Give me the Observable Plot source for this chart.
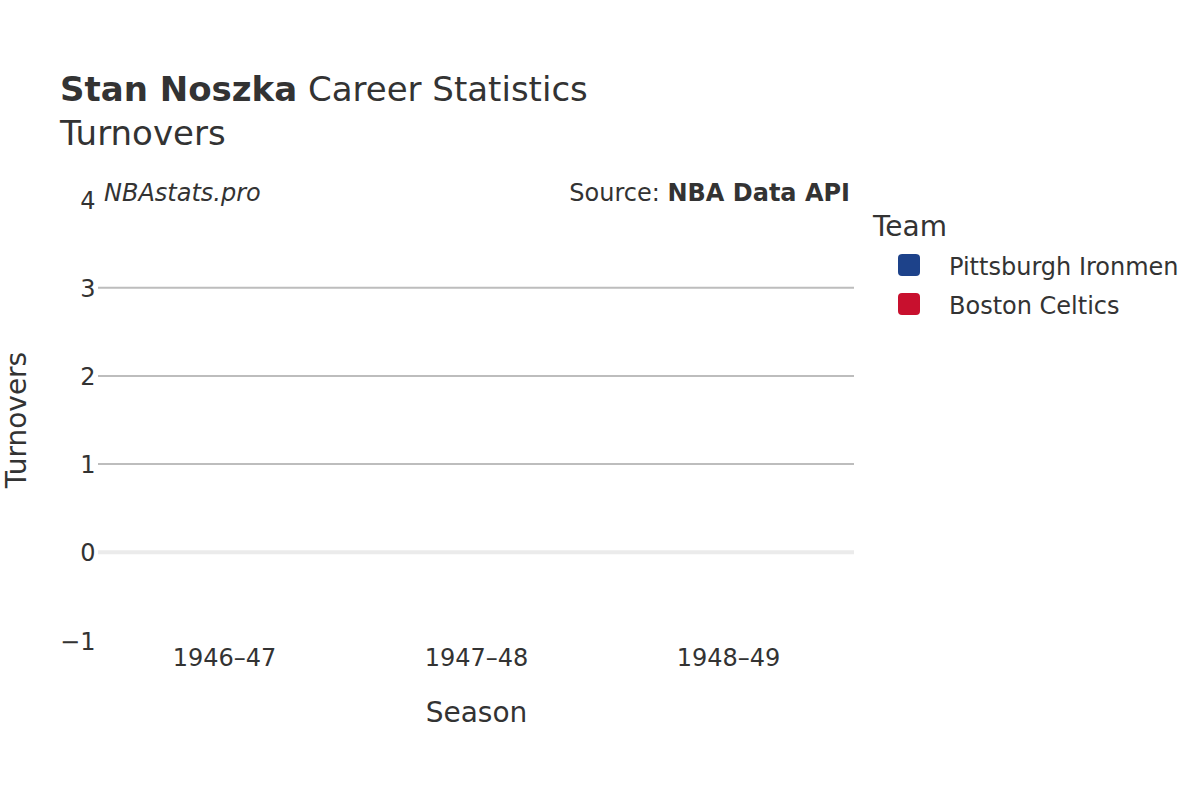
<!DOCTYPE html>
<html>
<head>
<meta charset="utf-8">
<script src="https://cdn.jsdelivr.net/npm/d3@7"></script>
<script src="https://cdn.jsdelivr.net/npm/@observablehq/plot@0.6"></script>
<style>
  html, body { margin: 0; padding: 0; background: #fff; }
  body { font-family: "DejaVu Sans", sans-serif; color: #333; }
  #wrap { position: relative; width: 1200px; height: 800px; overflow: hidden; }
  #chart { position: absolute; left: 0; top: 0; }
  .abs { position: absolute; white-space: nowrap; line-height: 1; }
  .sw { position: absolute; width: 22px; height: 22px; border-radius: 4px; }
</style>
</head>
<body>
<div id="wrap">
  <div id="chart"></div>
  <div class="abs" style="left:60px; top:72px; font-size:34px; color:#333;"><b>Stan Noszka</b> Career Statistics</div>
  <div class="abs" style="left:60px; top:116px; font-size:34px; color:#333;">Turnovers</div>
  <div class="abs" style="left:104px; top:181px; font-size:24px; font-style:italic; color:#333;">NBAstats.pro</div>
  <div class="abs" style="right:350px; top:181px; font-size:24px; color:#333;">Source: <b>NBA Data API</b></div>
  <div id="legend"></div>
</div>
<script>
const seasons = ["1946–47", "1947–48", "1948–49"];
const seasonTeams = ["Pittsburgh Ironmen", "Boston Celtics", "Boston Celtics"];
const turnovers = [null, null, null];
const teams = ["Pittsburgh Ironmen", "Boston Celtics"];
const teamColors = ["#1d428a", "#c8102e"];
const yTicks = [-1, 0, 1, 2, 3, 4];
const gridTicks = [1, 2, 3];

const rows = seasons.map((s, i) => ({season: s, team: seasonTeams[i], tov: turnovers[i]}));

const chart = Plot.plot({
  width: 1200,
  height: 800,
  marginLeft: 98,
  marginRight: 346,
  marginTop: 199,
  marginBottom: 160,
  style: {fontFamily: "DejaVu Sans, sans-serif", fontSize: "24px", color: "#333", background: "transparent"},
  x: {type: "band", domain: seasons, padding: 0},
  y: {domain: [-1, 4]},
  color: {domain: teams, range: teamColors},
  marks: [
    Plot.ruleY(gridTicks, {stroke: "#bdbdbd", strokeWidth: 2}),
    Plot.ruleY([0], {stroke: "#ebebeb", strokeWidth: 4}),
    Plot.barY(rows.filter(d => d.tov != null), {x: "season", y: "tov", fill: "team", inset: 20}),
    Plot.axisY({ticks: yTicks, tickSize: 0, tickPadding: 3, label: null, dy: 1.5, tickFormat: d => d < 0 ? "\u2212" + Math.abs(d) : String(d), fill: "#333", fontSize: 24}),
    Plot.axisX({tickSize: 0, tickPadding: 8, label: null, fill: "#333", fontSize: 24}),
    Plot.text(["Season"], {frameAnchor: "bottom", dy: 81, fontSize: 28, fill: "#333"}),
    Plot.text(["Turnovers"], {frameAnchor: "left", textAnchor: "middle", dx: -81, rotate: -90, fontSize: 28, fill: "#333"})
  ]
});
document.getElementById("chart").appendChild(chart);

const legend = document.getElementById("legend");
const title = document.createElement("div");
title.className = "abs";
title.style.cssText = "left:873px; top:213px; font-size:28px; color:#333;";
title.textContent = "Team";
legend.appendChild(title);
teams.forEach((t, i) => {
  const sw = document.createElement("div");
  sw.className = "sw";
  sw.style.left = "898px";
  sw.style.top = (254 + i * 39) + "px";
  sw.style.background = teamColors[i];
  legend.appendChild(sw);
  const lb = document.createElement("div");
  lb.className = "abs";
  lb.style.cssText = `left:949px; top:${255 + i * 39}px; font-size:24px; color:#333;`;
  lb.textContent = t;
  legend.appendChild(lb);
});
</script>
</body>
</html>
